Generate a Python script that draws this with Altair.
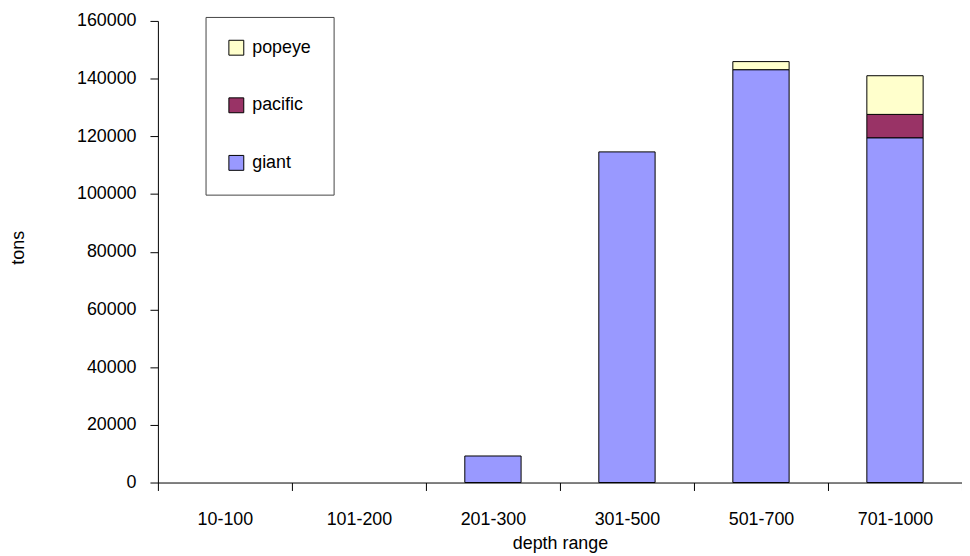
import altair as alt
import pandas as pd

categories = ["10-100", "101-200", "201-300", "301-500", "501-700", "701-1000"]
species = ["giant", "pacific", "popeye"]
giant = [0, 0, 9200, 114600, 143100, 119500]
pacific = [0, 0, 0, 0, 0, 8100]
popeye = [0, 0, 0, 0, 2800, 13400]
colors = ["#9999FF", "#993366", "#FFFFCC"]

rows = []
for i, c in enumerate(categories):
    for k, (s, vals) in enumerate(zip(species, [giant, pacific, popeye])):
        rows.append({"depth": c, "species": s, "tons": vals[i], "ord": k})
df = pd.DataFrame(rows)

FONT = "Liberation Sans"
FS = 18

chart = (
    alt.Chart(df)
    .transform_filter("datum.tons > 0")
    .mark_bar(stroke="black", strokeWidth=1, width=alt.RelativeBandSize(0.42))
    .encode(
        x=alt.X(
            "depth:N",
            sort=categories,
            scale=alt.Scale(domain=categories, paddingInner=0, paddingOuter=0),
            axis=alt.Axis(
                title="depth range",
                labelAngle=0,
                tickBand="extent",
                tickSize=8,
                labelPadding=20,
                titlePadding=6,
                labelFontSize=FS,
                titleFontSize=FS,
                titleFontWeight="normal",
                labelFont=FONT,
                titleFont=FONT,
                labelColor="black",
                titleColor="black",
                domainColor="black",
                tickColor="black",
                grid=False,
            ),
        ),
        y=alt.Y(
            "tons:Q",
            stack="zero",
            scale=alt.Scale(domain=[0, 160000], nice=False),
            axis=alt.Axis(
                title="tons",
                values=list(range(0, 160001, 20000)),
                format="d",
                grid=False,
                tickSize=8,
                labelPadding=14,
                labelFontSize=FS,
                titleFontSize=FS,
                titleFontWeight="normal",
                labelFont=FONT,
                titleFont=FONT,
                labelColor="black",
                titleColor="black",
                domainColor="black",
                tickColor="black",
                titleX=-140,
                titleY=228,
                titleAlign="center",
                titleBaseline="middle",
                titleAngle=270,
            ),
        ),
        color=alt.Color(
            "species:N",
            scale=alt.Scale(domain=["popeye", "pacific", "giant"],
                            range=[colors[2], colors[1], colors[0]]),
            legend=alt.Legend(
                title=None,
                orient="none",
                legendX=48,
                legendY=-4,
                symbolType="square",
                symbolSize=225,
                symbolStrokeColor="black",
                symbolStrokeWidth=1,
                labelFontSize=FS,
                labelFont=FONT,
                labelColor="black",
                labelOffset=7,
                rowPadding=38,
                padding=22,
                strokeColor="#444444",
                fillColor="white",
            ),
        ),
        order=alt.Order("ord:Q", sort="ascending"),
    )
    .properties(
        width=810,
        height=465,
        background="white",
        autosize=alt.AutoSizeParams(type="none"),
        padding={"left": 151, "top": 11, "right": 0, "bottom": 72},
    )
    .configure_view(stroke="transparent", strokeOpacity=0)
    .configure_axis(grid=False)
)

chart.save("out.html", embed_options={"renderer": "svg", "actions": False})
